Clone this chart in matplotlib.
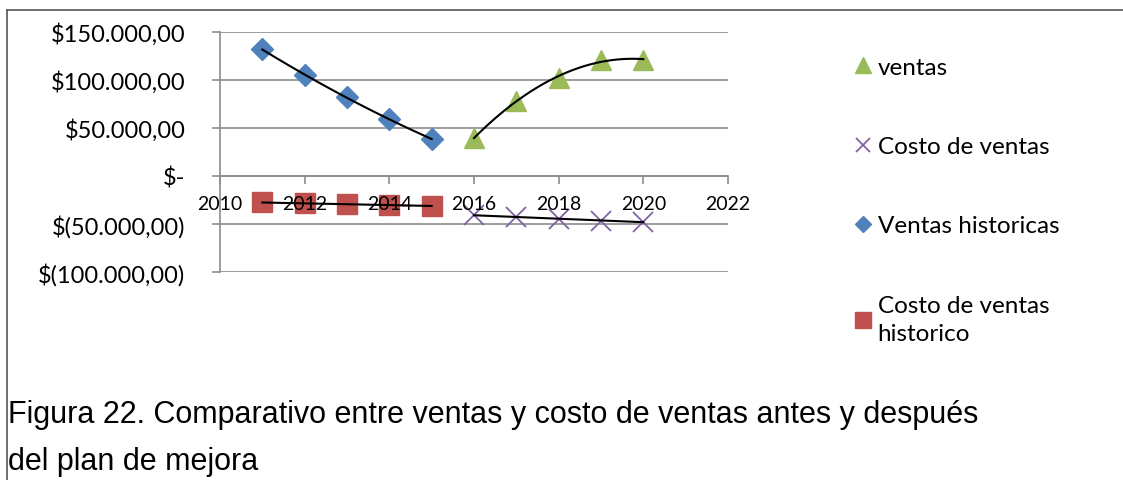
import numpy as np
import matplotlib.pyplot as plt
from matplotlib.lines import Line2D
from matplotlib.ticker import FuncFormatter

# data
years_hist = [2011, 2012, 2013, 2014, 2015]
ventas_hist = [132000, 105000, 82000, 59000, 38500]
costo_hist = [-27500, -28500, -29500, -30500, -31000]

years_proy = [2016, 2017, 2018, 2019, 2020]
ventas = [39500, 78500, 102000, 121000, 121000]
costo = [-40500, -43000, -44500, -47000, -47500]

labels = ["ventas", "Costo de ventas", "Ventas historicas", "Costo de ventas\nhistorico"]

BLUE = "#4F81BD"
RED = "#C0504D"
GREEN = "#9BBB59"
PURPLE = "#8064A2"
GRID = "#8C8C8C"

plt.rcParams['font.family'] = ['Lato', 'DejaVu Sans']

fig = plt.figure(figsize=(11.23, 4.81), dpi=100)
W, H = 1123, 481
ax = fig.add_axes([220 / W, 1 - 273 / H, (728 - 220) / W, (273 - 33) / H])


def money(v, pos):
    if v == 0:
        return "$-"
    s = f"{abs(v):,.2f}".replace(",", "X").replace(".", ",").replace("X", ".")
    return f"$({s})" if v < 0 else f"${s}"


def trend(x, y, deg):
    c = np.polyfit(x, y, deg)
    xx = np.linspace(min(x), max(x), 100)
    ax.plot(xx, np.polyval(c, xx), color="black", lw=1.5, zorder=4)


ax.plot(years_hist, ventas_hist, ls="none", marker="D", ms=11, color=BLUE, zorder=3)
ax.plot(years_hist, costo_hist, ls="none", marker="s", ms=14, color=RED, zorder=3)
ax.plot(years_proy, ventas, ls="none", marker="^", ms=15, color=GREEN, zorder=3)
ax.plot(years_proy, costo, ls="none", marker="x", ms=14, mew=1.3, color=PURPLE, zorder=3)

trend(years_hist, ventas_hist, 2)
trend(years_hist, costo_hist, 1)
trend(years_proy, ventas, 2)
trend(years_proy, costo, 1)

ax.set_xlim(2010, 2022)
ax.set_ylim(-100000, 150000)
ax.set_xticks(range(2010, 2023, 2))
ax.set_yticks(range(-100000, 150001, 50000))
ax.yaxis.set_major_formatter(FuncFormatter(money))

ax.grid(axis="y", color=GRID, lw=1.2)
# grid under the markers, year labels over them
ax.yaxis.set_zorder(0.5)
ax.xaxis.set_zorder(5)
for s in ["top", "right"]:
    ax.spines[s].set_visible(False)
ax.spines["left"].set_color(GRID)
ax.spines["left"].set_linewidth(1.2)
ax.spines["left"].set_zorder(0.6)
ax.spines["bottom"].set_position(("data", 0))
ax.spines["bottom"].set_color(GRID)
ax.spines["bottom"].set_linewidth(1.2)
ax.spines["bottom"].set_zorder(0.6)
ax.tick_params(axis="y", length=6, color=GRID, width=1.2, labelsize=17, pad=19)
ax.tick_params(axis="x", length=6, color=GRID, width=1.2, labelsize=14, pad=8)

handles = [
    Line2D([], [], ls="none", marker="^", ms=11, color=GREEN),
    Line2D([], [], ls="none", marker="x", ms=10, mew=1.3, color=PURPLE),
    Line2D([], [], ls="none", marker="D", ms=8, color=BLUE),
    Line2D([], [], ls="none", marker="s", ms=11, color=RED),
]
leg = fig.legend(handles, labels, loc="upper left", bbox_to_anchor=(846 / W, 1 - 48 / H),
                 frameon=False, fontsize=17.5, handlelength=0.6, handletextpad=0.3,
                 labelspacing=2.4, borderaxespad=0)
for t in leg.get_texts():
    t.set_linespacing(1.45)

# chart frame
fig.add_artist(Line2D([7 / W, 1], [1 - 11 / H, 1 - 11 / H], color="#555555", lw=1.2))
fig.add_artist(Line2D([7 / W, 7 / W], [0, 1 - 11 / H], color="#555555", lw=1.2))

fig.text(8 / W, 1 - 415 / H, "Figura 22. Comparativo entre ventas y costo de ventas antes y después",
         fontsize=22, family=["Liberation Sans"], va="center")
fig.text(8 / W, 1 - 462 / H, "del plan de mejora",
         fontsize=22, family=["Liberation Sans"], va="center")

fig.savefig("out.png", dpi=100)
